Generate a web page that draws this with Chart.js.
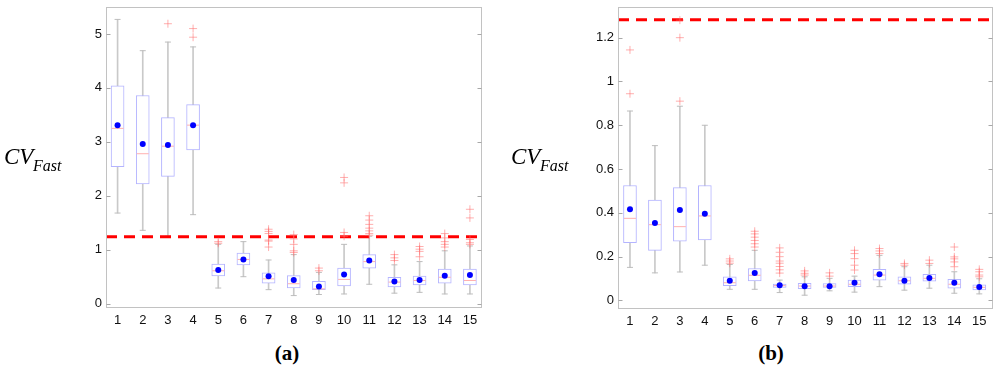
<!DOCTYPE html>
<html><head><meta charset="utf-8">
<script src="https://cdn.jsdelivr.net/npm/chart.js@4.4.0/dist/chart.umd.min.js"></script>
<style>
html,body{margin:0;padding:0;background:#fff;width:1000px;height:373px;overflow:hidden;position:relative}
.t{position:absolute;font-family:'Liberation Serif','Times New Roman',serif;color:#000;line-height:1;white-space:nowrap}
.it{font-style:italic}
.cap{font-weight:bold;font-size:21px;transform:translateX(-50%)}
canvas{position:absolute;top:0}
</style></head><body>
<canvas id="cl" width="495" height="340" style="left:0"></canvas>
<canvas id="cr" width="500" height="340" style="left:500px"></canvas>
<span class="t it" style="left:4px;top:145px;font-size:23px">CV</span>
<span class="t it" style="left:33px;top:158px;font-size:16px">Fast</span>
<span class="t it" style="left:511px;top:145px;font-size:23px">CV</span>
<span class="t it" style="left:540px;top:158px;font-size:16px">Fast</span>
<span class="t cap" style="left:287px;top:343px">(a)</span>
<span class="t cap" style="left:771px;top:343px">(b)</span>
<script>
const categories = [1,2,3,4,5,6,7,8,9,10,11,12,13,14,15];

// Panel (a)
const aLow  = [1.68,1.36,1.25,1.65,0.29,0.50,0.26,0.15,0.17,0.18,0.36,0.195,0.21,0.18,0.18];
const aQ1   = [2.54,2.22,2.36,2.85,0.515,0.72,0.38,0.29,0.26,0.33,0.66,0.31,0.35,0.38,0.35];
const aMed  = [3.25,2.78,2.92,3.31,0.61,0.82,0.46,0.37,0.275,0.45,0.78,0.40,0.43,0.49,0.43];
const aQ3   = [4.04,3.86,3.45,3.69,0.735,0.94,0.57,0.52,0.415,0.66,0.91,0.49,0.51,0.64,0.64];
const aHigh = [5.27,4.69,4.85,4.76,1.10,1.15,0.81,0.91,0.58,1.10,1.25,0.72,0.78,0.98,1.07];
const aMean = [3.31,2.96,2.94,3.31,0.625,0.82,0.51,0.44,0.32,0.54,0.80,0.41,0.44,0.52,0.53];
const aOut  = [[],[],[5.19],[5.10,4.94],[1.15,1.12],[],[1.38,1.34,1.30,1.18,1.16,1.05],
  [1.28,1.20,1.10,0.98,0.95],[0.66,0.61],[2.34,2.24,1.32,1.25],[1.63,1.55,1.47,1.40,1.35,1.30,1.27],
  [0.91,0.85,0.80],[1.06,1.01,0.97,0.87],[1.30,1.22,1.15,1.10,1.05],[1.75,1.59,1.19,1.13,1.10]];
const aRef = 1.243;
const aYTicks = [0,1,2,3,4,5];

// Panel (b)
const bLow  = [0.151,0.126,0.13,0.161,0.051,0.051,0.036,0.024,0.044,0.038,0.063,0.047,0.056,0.033,0.03];
const bQ1   = [0.264,0.229,0.271,0.277,0.068,0.089,0.06,0.054,0.059,0.063,0.093,0.074,0.088,0.056,0.048];
const bMed  = [0.375,0.346,0.337,0.386,0.081,0.115,0.068,0.066,0.066,0.074,0.116,0.09,0.101,0.074,0.06];
const bQ3   = [0.525,0.458,0.515,0.525,0.108,0.146,0.075,0.078,0.077,0.093,0.142,0.108,0.119,0.097,0.071];
const bHigh = [0.865,0.707,0.887,0.80,0.164,0.229,0.093,0.108,0.101,0.111,0.206,0.154,0.161,0.131,0.099];
const bMean = [0.417,0.354,0.413,0.396,0.09,0.125,0.069,0.065,0.065,0.081,0.12,0.09,0.102,0.081,0.062];
const bOut  = [[1.144,0.944],[],[1.28,1.20,0.91],[],[0.19,0.18,0.17],[0.316,0.304,0.289,0.274,0.259,0.244],
  [0.24,0.22,0.20,0.18,0.17,0.155,0.14,0.125],[0.135,0.124,0.116],[0.126,0.111],
  [0.229,0.214,0.191,0.161,0.139],[0.237,0.226,0.214],[0.169,0.161],[0.184,0.169],
  [0.244,0.199,0.19,0.176,0.154],[0.142,0.131,0.116,0.108]];
const bRef = 1.282;
const bYTicks = [0,0.2,0.4,0.6,0.8,1,1.2];

const framePlugin = {
  id: 'frame',
  afterDatasetsDraw(chart) {
    const ctx = chart.ctx, a = chart.chartArea, y = chart.scales.y;
    ctx.save();
    ctx.strokeStyle = '#c2c2c2';
    ctx.lineWidth = 1;
    const l = Math.round(a.left) + 0.5, r = Math.round(a.right) - 0.5;
    const t = Math.round(a.top) + 0.5, b = Math.round(a.bottom) - 0.5;
    ctx.strokeRect(l, t, r - l, b - t);
    ctx.strokeStyle = '#a8a8a8';
    ctx.beginPath();
    y.ticks.forEach(tk => {
      const py = Math.round(y.getPixelForValue(tk.value)) + 0.5;
      ctx.moveTo(l, py); ctx.lineTo(l + 4, py);
      ctx.moveTo(r, py); ctx.lineTo(r - 4, py);
    });
    ctx.stroke();
    ctx.restore();
  }
};

function makeChart(id, d) {
  const pts = (arr) => categories.map((c, i) => ({x: c, y: arr[i]}));
  const outPts = [];
  d.out.forEach((list, i) => list.forEach(v => outPts.push({x: categories[i], y: v})));
  const capPts = pts(d.low).concat(pts(d.high));
  const font = {family: "'Liberation Sans', Arial, sans-serif", size: 13};
  return new Chart(document.getElementById(id), {
    type: 'bar',
    data: {
      datasets: [
        {type: 'bar', data: categories.map((c, i) => ({x: c, y: [d.low[i], d.high[i]]})),
         backgroundColor: '#c9c9c9', borderWidth: 0, barThickness: 1, grouped: false, order: 10},
        {type: 'bar', data: categories.map((c, i) => ({x: c, y: [d.q1[i], d.q3[i]]})),
         backgroundColor: '#ffffff', borderColor: '#b4b4ff', borderWidth: 1, borderSkipped: false,
         barThickness: 13, grouped: false, order: 9},
        {type: 'scatter', data: capPts, pointStyle: 'line', pointRadius: 3, borderColor: '#bdbdbd',
         borderWidth: 1, order: 8},
        {type: 'scatter', data: pts(d.med), pointStyle: 'line', pointRadius: 6, borderColor: '#ffb0b0',
         borderWidth: 1, order: 7},
        {type: 'line', data: [{x: d.xMin, y: d.ref}, {x: d.xMax, y: d.ref}], borderColor: '#ff0000',
         borderWidth: 3, borderDash: [11, 7], pointRadius: 0, order: 6},
        {type: 'scatter', data: outPts, pointStyle: 'cross', pointRadius: 4, borderColor: 'rgba(255,110,110,0.55)',
         borderWidth: 1, order: 5},
        {type: 'scatter', data: pts(d.mean), pointStyle: 'circle', pointRadius: 3, backgroundColor: '#0000ff',
         borderColor: '#0000ff', borderWidth: 0, order: 4}
      ]
    },
    options: {
      responsive: false, animation: false, devicePixelRatio: 1,
      layout: {padding: {left: 0, top: d.top, right: d.padRight, bottom: 0}},
      plugins: {legend: {display: false}, tooltip: {enabled: false}},
      events: [],
      scales: {
        x: {type: 'linear', min: d.xMin, max: d.xMax, offset: false,
            grid: {display: false, drawTicks: false}, border: {display: false},
            ticks: {font, color: '#111', padding: 5, maxRotation: 0, callback: v => String(v)},
            afterBuildTicks: s => { s.ticks = categories.map(v => ({value: v})); },
            afterFit: s => { s.height = d.xHeight; s.paddingLeft = 0; s.paddingRight = 0; }},
        y: {type: 'linear', min: d.yMin, max: d.yMax,
            grid: {display: false, drawTicks: false}, border: {display: false},
            ticks: {font, color: '#111', padding: 4, callback: v => String(v)},
            afterBuildTicks: s => { s.ticks = d.yTicks.map(v => ({value: v})); },
            afterFit: s => { s.width = d.yWidth; s.paddingTop = 0; s.paddingBottom = 0; }}
      }
    },
    plugins: [framePlugin]
  });
}

makeChart('cl', {low: aLow, q1: aQ1, med: aMed, q3: aQ3, high: aHigh, mean: aMean, out: aOut, ref: aRef,
  yTicks: aYTicks, yMin: -0.08, yMax: 5.5, xMin: 0.54, xMax: 15.48,
  top: 4, padRight: 13, yWidth: 106, xHeight: 32});
makeChart('cr', {low: bLow, q1: bQ1, med: bMed, q3: bQ3, high: bHigh, mean: bMean, out: bOut, ref: bRef,
  yTicks: bYTicks, yMin: -0.039, yMax: 1.34, xMin: 0.52, xMax: 15.55,
  top: 4, padRight: 3, yWidth: 118, xHeight: 31});
</script>
</body></html>
